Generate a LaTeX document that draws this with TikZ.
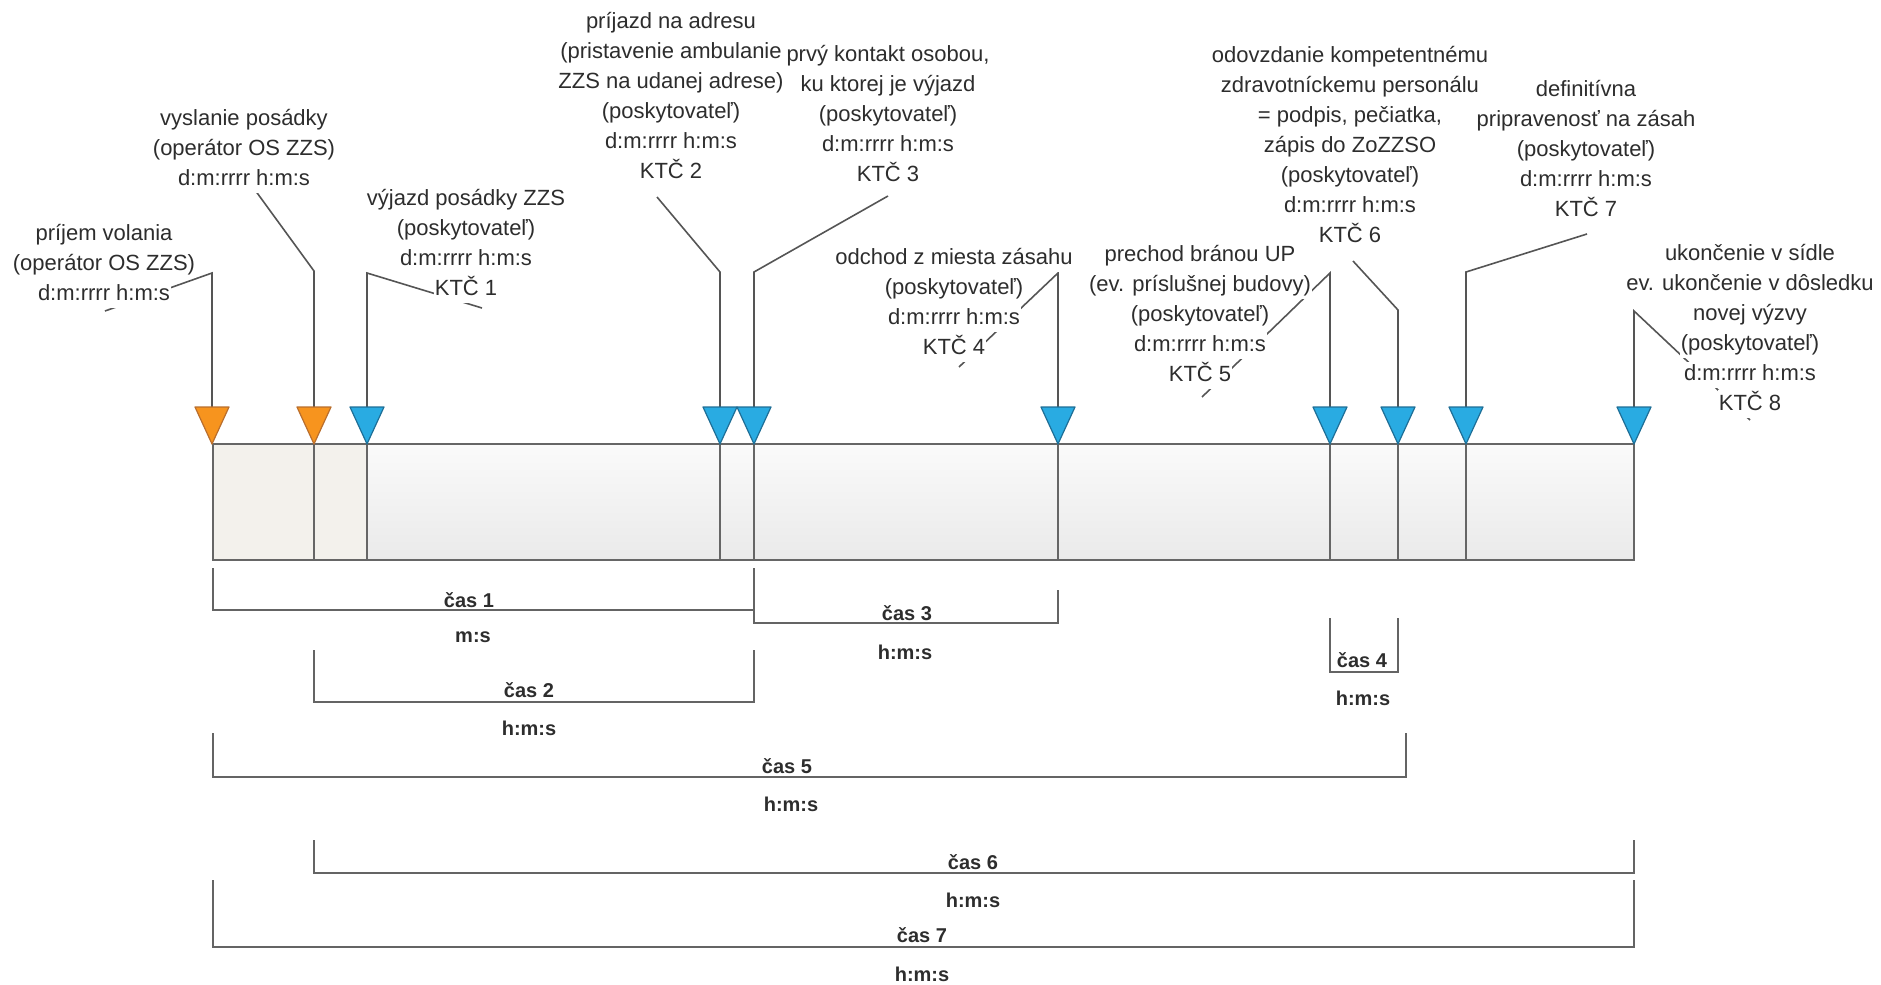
\documentclass[tikz,border=0pt]{standalone}
\usepackage{fontspec}
\setmainfont{Liberation Sans}
\usetikzlibrary{calc}
\definecolor{txt}{RGB}{45,45,45}
\definecolor{ln}{RGB}{85,85,85}
\definecolor{brc}{RGB}{100,100,100}
\definecolor{orf}{RGB}{247,148,30}
\definecolor{ord}{RGB}{185,110,45}
\definecolor{blf}{RGB}{41,171,226}
\definecolor{bld}{RGB}{30,110,150}
\definecolor{barl}{RGB}{243,241,236}
\definecolor{bart}{RGB}{250,250,250}
\definecolor{barb}{RGB}{234,234,234}
\setlength{\fboxsep}{0.6pt}
\newcommand{\hl}[1]{\colorbox{white}{\rule[-3pt]{0pt}{11.8pt}#1}}
\begin{document}
\begin{tikzpicture}[x=0.5pt,y=-0.5pt,
  lbl/.style={align=center,inner sep=0pt,text=txt,font=\fontsize{11}{15}\selectfont},
  blbl/.style={inner sep=0pt,text=txt,font=\fontsize{10}{12}\selectfont\bfseries},
  lead/.style={draw=ln,line width=0.8pt},
  barline/.style={draw=ln!90,line width=0.8pt},
  brk/.style={draw=brc,line width=1.1pt},
  oritri/.style={fill=orf,draw=ord,line width=0.6pt,line join=round},
  bltri/.style={fill=blf,draw=bld,line width=0.6pt,line join=round}]
\useasboundingbox (0,0) rectangle (1881,985);

% bar
\fill[barl] (213,444) rectangle (367,560);
\shade[top color=bart,bottom color=barb] (367,444) rectangle (1634,560);
\foreach \x in {314,367,720,754,1058,1330,1398,1466}{
  \draw[barline] (\x,444) -- (\x,560);
}
\draw[barline] (213,444) rectangle (1634,560);

% markers: x, top of vertical, end of leader
\foreach \i/\x/\t/\ex/\ey in {1/212/273/105/311, 2/314/271/255/190, 3/367/273/482/308,
  4/720/272/657/197, 5/754/272/888/196, 6/1058/273/959/367, 7/1330/273/1202/397,
  8/1398/310/1353/261, 9/1466/272/1587/234, 10/1634/311/1750/420}{
  \coordinate (k\i) at (\x,444);
  \coordinate (a\i) at (\x,\t);
  \coordinate (e\i) at (\ex,\ey);
  \draw[lead] (k\i) -- (a\i) -- (e\i);
}
\foreach \i in {1,2}{
  \draw[oritri] ($(k\i)+(-17,-37)$) -- ($(k\i)+(17,-37)$) -- (k\i) -- cycle;
}
\foreach \i in {3,...,10}{
  \draw[bltri] ($(k\i)+(-17,-37)$) -- ($(k\i)+(17,-37)$) -- (k\i) -- cycle;
}

% labels
\node[lbl] (t1) at (104,265) {\hl{príjem volania}\\\hl{(operátor OS ZZS)}\\\hl{d:m:rrrr h:m:s}};
\node[lbl] (t2) at (244,150) {\hl{vyslanie posádky}\\\hl{(operátor OS ZZS)}\\\hl{d:m:rrrr h:m:s}};
\node[lbl] (t3) at (466,245) {\hl{výjazd posádky ZZS}\\\hl{(poskytovateľ)}\\\hl{d:m:rrrr h:m:s}\\\hl{KTČ 1}};
\node[lbl] (t4) at (671,98) {\hl{príjazd na adresu}\\\hl{(pristavenie ambulanie}\\\hl{ZZS na udanej adrese)}\\\hl{(poskytovateľ)}\\\hl{d:m:rrrr h:m:s}\\\hl{KTČ 2}};
\node[lbl] (t5) at (888,116) {\hl{prvý kontakt osobou,}\\\hl{ku ktorej je výjazd}\\\hl{(poskytovateľ)}\\\hl{d:m:rrrr h:m:s}\\\hl{KTČ 3}};
\node[lbl] (t6) at (954,304) {\hl{odchod z miesta zásahu}\\\hl{(poskytovateľ)}\\\hl{d:m:rrrr h:m:s}\\\hl{KTČ 4}};
\node[lbl] (t7) at (1200,316) {\hl{prechod bránou UP}\\\hl{(ev. príslušnej budovy)}\\\hl{(poskytovateľ)}\\\hl{d:m:rrrr h:m:s}\\\hl{KTČ 5}};
\node[lbl] (t8) at (1350,147) {\hl{odovzdanie kompetentnému}\\\hl{zdravotníckemu personálu}\\\hl{= podpis, pečiatka,}\\\hl{zápis do ZoZZSO}\\\hl{(poskytovateľ)}\\\hl{d:m:rrrr h:m:s}\\\hl{KTČ 6}};
\node[lbl] (t9) at (1586,151) {\hl{definitívna}\\\hl{pripravenosť na zásah}\\\hl{(poskytovateľ)}\\\hl{d:m:rrrr h:m:s}\\\hl{KTČ 7}};
\node[lbl] (t10) at (1750,330) {\hl{ukončenie v sídle}\\\hl{ev. ukončenie v dôsledku}\\\hl{novej výzvy}\\\hl{(poskytovateľ)}\\\hl{d:m:rrrr h:m:s}\\\hl{KTČ 8}};

% brackets
\draw[brk] (213,568) -- (213,610) -- (754,610);
\draw[brk] (754,568) -- (754,623) -- (1058,623) -- (1058,590);
\draw[brk] (314,650) -- (314,702) -- (754,702) -- (754,650);
\draw[brk] (1330,618) -- (1330,672) -- (1398,672) -- (1398,618);
\draw[brk] (213,733) -- (213,777) -- (1406,777) -- (1406,733);
\draw[brk] (314,840) -- (314,873) -- (1634,873) -- (1634,840);
\draw[brk] (213,880) -- (213,947) -- (1634,947) -- (1634,880);

\node[blbl] (c1) at (469,600) {čas 1};
\node[blbl] (v1) at (473,637) {m:s};
\node[blbl] (c3) at (907,613) {čas 3};
\node[blbl] (v3) at (905,652) {h:m:s};
\node[blbl] (c2) at (529,690) {čas 2};
\node[blbl] (v2) at (529,728) {h:m:s};
\node[blbl] (c4) at (1362,660) {čas 4};
\node[blbl] (v4) at (1363,698) {h:m:s};
\node[blbl] (c5) at (787,766) {čas 5};
\node[blbl] (v5) at (791,804) {h:m:s};
\node[blbl] (c6) at (973,862) {čas 6};
\node[blbl] (v6) at (973,900) {h:m:s};
\node[blbl] (c7) at (922,935) {čas 7};
\node[blbl] (v7) at (922,974) {h:m:s};
\end{tikzpicture}
\end{document}
